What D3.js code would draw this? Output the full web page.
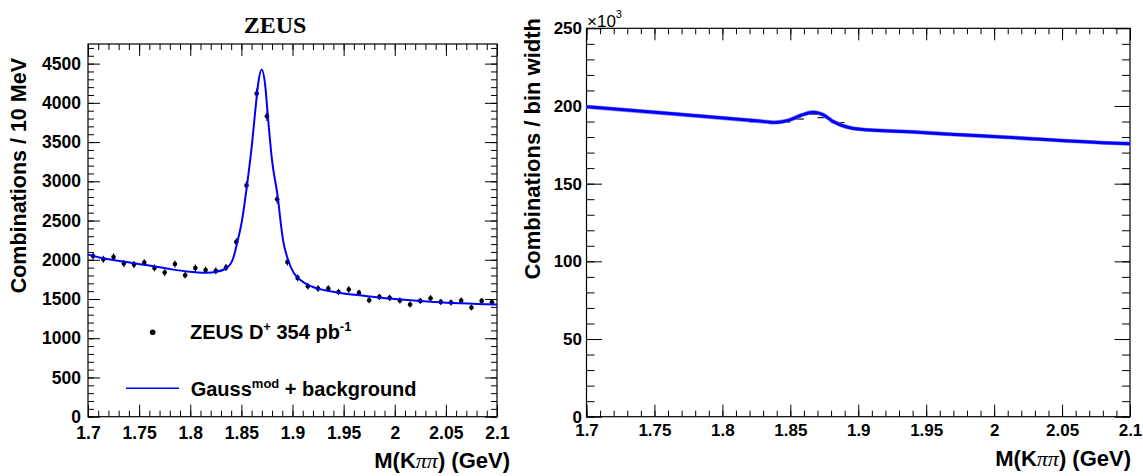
<!DOCTYPE html>
<html>
<head>
<script src="https://d3js.org/d3.v7.min.js"></script>
<style>
  body { margin: 0; background: #fff; }
  svg { display: block; }
  text { font-family: "Liberation Sans", Arial, sans-serif; font-weight: bold; fill: #000; }
  .tick line { stroke: #000; stroke-width: 1; }
  .domain { display: none; }
  .frame { fill: none; stroke: #000; stroke-width: 1.2; }
</style>
</head>
<body>
<div id="chart"></div>
<script>
var W = 1143, H = 476;

// left panel: ZEUS D+ candidates in 10 MeV bins
var massBins = [1.705, 1.715, 1.725, 1.735, 1.745, 1.755, 1.765, 1.775, 1.785, 1.795,
                1.805, 1.815, 1.825, 1.835, 1.845, 1.855, 1.865, 1.875, 1.885, 1.895,
                1.905, 1.915, 1.925, 1.935, 1.945, 1.955, 1.965, 1.975, 1.985, 1.995,
                2.005, 2.015, 2.025, 2.035, 2.045, 2.055, 2.065, 2.075, 2.085, 2.095];
var counts = [2048, 2006, 2036, 1952, 1939, 1964, 1896, 1837, 1947, 1803,
              1896, 1870, 1858, 1901, 2227, 2948, 4118, 3830, 2770, 1972,
              1769, 1663, 1634, 1634, 1590, 1621, 1578, 1485, 1527, 1514,
              1481, 1430, 1476, 1510, 1463, 1455, 1481, 1392, 1476, 1459];
var countErrors = [45, 45, 45, 44, 44, 44, 44, 43, 44, 42,
                   44, 43, 43, 44, 47, 54, 64, 62, 53, 44,
                   42, 41, 40, 40, 40, 40, 40, 39, 39, 39,
                   38, 38, 38, 39, 38, 38, 38, 37, 38, 38];

// fit curve (Gauss^mod + background)
var fitMass = [1.700, 1.711, 1.744, 1.777, 1.797, 1.816, 1.826, 1.836, 1.842, 1.8456,
               1.8506, 1.8555, 1.8604, 1.8636, 1.8665, 1.8698, 1.8735, 1.8757, 1.880, 1.8859,
               1.8882, 1.8908, 1.8958, 1.9013, 1.908, 1.918, 1.941, 1.973, 2.006, 2.039, 2.100];
var fitCounts = [2066, 2030, 1960, 1888, 1850, 1834, 1848, 1900, 2020, 2200,
                 2500, 2948, 3478, 3900, 4250, 4424, 4198, 3860, 3266, 2770,
                 2503, 2248, 1994, 1830, 1739, 1663, 1590, 1536, 1494, 1463, 1430];

// right panel, combinations / bin width in units of 10^3
var rightCounts = [199.1, 198.4, 197.7, 196.9, 196.2, 195.5, 194.7, 194.0, 193.3, 192.6,
                   191.8, 191.1, 189.6, 189.2, 189.6, 191.6, 194.6, 192.5, 189.3, 185.8,
                   184.9, 184.4, 183.9, 183.2, 182.9, 182.4, 181.9, 181.4, 181.0, 180.5,
                   180.0, 179.5, 179.0, 178.4, 178.0, 177.5, 177.1, 176.6, 176.1, 175.7];
var rightFitMass = [1.700, 1.768, 1.7835, 1.827, 1.8387, 1.848, 1.858, 1.8669, 1.874, 1.8816,
                    1.8939, 1.900, 1.944, 1.9675, 2.0025, 2.090, 2.100];
var rightFitCounts = [199.5, 194.6, 193.5, 190.3, 189.4, 190.6, 194.0, 196.0, 194.4, 189.9,
                      186.0, 185.2, 183.1, 181.8, 180.2, 176.0, 175.7];

var massTicks = [1.7, 1.75, 1.8, 1.85, 1.9, 1.95, 2, 2.05, 2.1];
var leftYTicks = [0, 500, 1000, 1500, 2000, 2500, 3000, 3500, 4000, 4500];
var rightYTicks = [0, 50, 100, 150, 200, 250];

var svg = d3.select("#chart").append("svg").attr("width", W).attr("height", H);

function drawAxes(g, x, y, o) {
  var x0 = x.range()[0], x1 = x.range()[1], y0 = y.range()[0], y1 = y.range()[1];
  var massMinor = d3.range(0, 41).map(i => 1.7 + i * 0.01);
  var yMinor = d3.range(y.domain()[0], y.domain()[1], o.yMinorStep);
  var fmt = d3.format("~g");

  // bottom
  var bx = g.append("g").attr("transform", `translate(0,${y0})`);
  bx.append("g").call(d3.axisBottom(x).tickValues(massMinor).tickSize(-o.xMinor).tickFormat(""));
  bx.append("g").call(d3.axisBottom(x).tickValues(massTicks).tickSizeInner(-o.xMajor)
    .tickSizeOuter(0).tickPadding(o.xPad).tickFormat(fmt))
    .selectAll("text").style("font-size", o.tickFont + "px");
  // top
  var tx = g.append("g").attr("transform", `translate(0,${y1})`);
  tx.append("g").call(d3.axisTop(x).tickValues(massMinor).tickSize(-o.xMinor).tickFormat(""));
  tx.append("g").call(d3.axisTop(x).tickValues(massTicks).tickSize(-o.xMajor).tickFormat(""));
  // left
  var ly = g.append("g").attr("transform", `translate(${x0},0)`);
  ly.append("g").call(d3.axisLeft(y).tickValues(yMinor).tickSize(-o.yMinor).tickFormat(""));
  ly.append("g").call(d3.axisLeft(y).tickValues(o.yTicks).tickSizeInner(-o.yMajor)
    .tickSizeOuter(0).tickPadding(o.yPad).tickFormat(fmt))
    .selectAll("text").style("font-size", o.tickFont + "px");
  // right
  var ry = g.append("g").attr("transform", `translate(${x1},0)`);
  ry.append("g").call(d3.axisRight(y).tickValues(yMinor).tickSize(-o.yMinor).tickFormat(""));
  ry.append("g").call(d3.axisRight(y).tickValues(o.yTicks).tickSize(-o.yMajor).tickFormat(""));

  g.append("rect").attr("class", "frame")
    .attr("x", x0).attr("y", y1).attr("width", x1 - x0).attr("height", y0 - y1);
}

function massTitle(g, xr, yb) {
  var t = g.append("text").attr("x", xr).attr("y", yb).attr("text-anchor", "end")
    .style("font-size", "22px");
  t.append("tspan").text("M(K");
  t.append("tspan").style("font-family", "'Liberation Serif', serif").style("font-weight", "normal")
    .style("font-style", "italic").text("ππ");
  t.append("tspan").text(") (GeV)");
}

// ---------- left panel ----------
var xL = d3.scaleLinear().domain([1.7, 2.1]).range([88, 497]);
var yL = d3.scaleLinear().domain([0, 4750]).range([416.7, 44]);
var gL = svg.append("g");

drawAxes(gL, xL, yL, {yTicks: leftYTicks, yMinorStep: 100, xMajor: 12, xMinor: 6,
  yMajor: 12, yMinor: 6, xPad: 10, yPad: 7, tickFont: 17.5});

var pts = massBins.map((m, i) => ({m: m, c: counts[i], e: countErrors[i]}));
gL.selectAll(".err").data(pts).enter().append("line")
  .attr("x1", d => xL(d.m)).attr("x2", d => xL(d.m))
  .attr("y1", d => yL(d.c - d.e)).attr("y2", d => yL(d.c + d.e))
  .attr("stroke", "#000").attr("stroke-width", 1.2);
gL.selectAll(".pt").data(pts).enter().append("circle")
  .attr("cx", d => xL(d.m)).attr("cy", d => yL(d.c)).attr("r", 2.3).attr("fill", "#000");

var lineL = d3.line().x(d => xL(d[0])).y(d => yL(d[1])).curve(d3.curveMonotoneX);
gL.append("path").datum(fitMass.map((m, i) => [m, fitCounts[i]]))
  .attr("d", lineL).attr("fill", "none").attr("stroke", "#0000ff").attr("stroke-width", 2);

gL.append("text").attr("x", 275).attr("y", 33).attr("text-anchor", "middle")
  .style("font-family", "'Liberation Serif', 'Times New Roman', serif").style("font-size", "24px")
  .text("ZEUS");

gL.append("text").attr("transform", "translate(26,58) rotate(-90)").attr("text-anchor", "end")
  .style("font-size", "21.5px").text("Combinations / 10 MeV");
massTitle(gL, 510, 468);

// legend
gL.append("circle").attr("cx", 152.7).attr("cy", 332.3).attr("r", 2.8).attr("fill", "#000");
var l1 = gL.append("text").attr("x", 190).attr("y", 339).style("font-size", "20px");
l1.append("tspan").text("ZEUS D");
l1.append("tspan").attr("dy", -8).style("font-size", "13px").text("+");
l1.append("tspan").attr("dy", 8).text(" 354 pb");
l1.append("tspan").attr("dy", -8).style("font-size", "13px").text("-1");
gL.append("line").attr("x1", 126).attr("x2", 179).attr("y1", 388.3).attr("y2", 388.3)
  .attr("stroke", "#0000ff").attr("stroke-width", 1.5);
var l2 = gL.append("text").attr("x", 190.7).attr("y", 395.7).style("font-size", "20px");
l2.append("tspan").text("Gauss");
l2.append("tspan").attr("dy", -8).style("font-size", "13px").text("mod");
l2.append("tspan").attr("dy", 8).text(" + background");

// ---------- right panel ----------
var xR = d3.scaleLinear().domain([1.7, 2.1]).range([586.5, 1130]);
var yR = d3.scaleLinear().domain([0, 250]).range([416.7, 28.3]);
var gR = svg.append("g");

drawAxes(gR, xR, yR, {yTicks: rightYTicks, yMinorStep: 10, xMajor: 12, xMinor: 6,
  yMajor: 15.5, yMinor: 8, xPad: 7, yPad: 4.5, tickFont: 17});

// histogram bins (mostly hidden under the fit)
gR.selectAll(".bin").data(massBins.map((m, i) => [m, rightCounts[i]])).enter().append("line")
  .attr("x1", d => xR(d[0] - 0.005)).attr("x2", d => xR(d[0] + 0.005))
  .attr("y1", d => yR(d[1])).attr("y2", d => yR(d[1]))
  .attr("stroke", "#222").attr("stroke-width", 1.3);

var lineR = d3.line().x(d => xR(d[0])).y(d => yR(d[1])).curve(d3.curveMonotoneX);
var fitR = rightFitMass.map((m, i) => [m, rightFitCounts[i]]);
gR.append("path").datum(fitR).attr("d", lineR).attr("fill", "none")
  .attr("stroke", "#8c8cff").attr("stroke-width", 4.2);
gR.append("path").datum(fitR).attr("d", lineR).attr("fill", "none")
  .attr("stroke", "#0000ff").attr("stroke-width", 3);

var ex = gR.append("text").attr("x", 587).attr("y", 27)
  .style("font-weight", "normal").style("font-size", "17px");
ex.append("tspan").text("×10");
ex.append("tspan").attr("dy", -9).style("font-size", "11px").text("3");

gR.append("text").attr("transform", "translate(540,18) rotate(-90)").attr("text-anchor", "end")
  .style("font-size", "22px").text("Combinations / bin width");
massTitle(gR, 1131, 466);
</script>
</body>
</html>
